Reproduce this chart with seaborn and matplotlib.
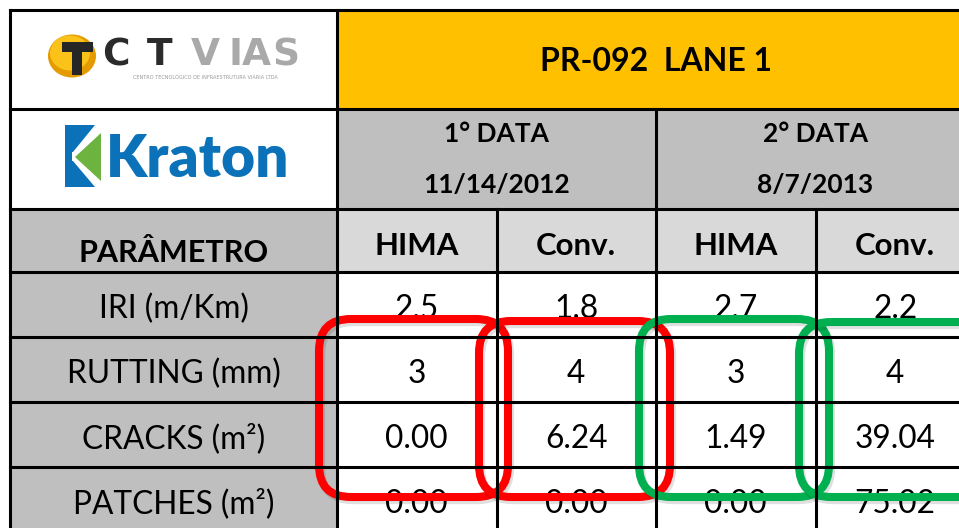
import numpy as np
import pandas as pd
import seaborn as sns
import matplotlib.pyplot as plt
from matplotlib.patches import Rectangle, Ellipse, Polygon, FancyBboxPatch
from matplotlib.colors import ListedColormap

sns.set_theme(style="white")
plt.rcParams['font.family'] = ['Lato', 'DejaVu Sans']
plt.rcParams['text.color'] = 'black'

# table content
titulo = "PR-092  LANE 1"
campanhas = ["1° DATA", "2° DATA"]
datas = ["11/14/2012", "8/7/2013"]
tratamentos = ["HIMA", "Conv.", "HIMA", "Conv."]
parametros = ["IRI (m/Km)", "RUTTING (mm)", "CRACKS (m²)", "PATCHES (m²)"]
casas = [1, 0, 2, 2]  # decimals shown on each row

hima_2012 = [2.5, 3, 0.00, 0.00]
conv_2012 = [1.8, 4, 6.24, 0.00]
hima_2013 = [2.7, 3, 1.49, 0.00]
conv_2013 = [2.2, 4, 39.04, 75.02]

df = pd.DataFrame({"hima_2012": hima_2012, "conv_2012": conv_2012,
                   "hima_2013": hima_2013, "conv_2013": conv_2013},
                  index=parametros)
annot = np.array([[f"{v:.{casas[i]}f}" for v in df.iloc[i]] for i in range(len(df))])

# layout in pixels (y goes down)
W, H = 959, 528
x_left, x_data, x_right = 10, 337, 975
col_w = (x_right - x_data) / 4
y_rows = [10, 109, 209, 272, 337, 402, 467, 532]
row_h = 65

AMARELO = "#FFC000"
CINZA = "#BFBFBF"
CINZA_CLARO = "#D9D9D9"

fig = plt.figure(figsize=(W / 100, H / 100), dpi=100)
ax = fig.add_axes([0, 0, 1, 1])
ax.set_xlim(0, W)
ax.set_ylim(H, 0)
ax.axis("off")

# cell fills
ax.add_patch(Rectangle((x_data, 10), x_right - x_data, 99, fc=AMARELO, lw=0))
half = (x_right - x_data) / 2
for i in range(2):
    ax.add_patch(Rectangle((x_data + i * half, 109), half, 100, fc=CINZA, lw=0))
ax.add_patch(Rectangle((x_left, 209), x_data - x_left, 63, fc=CINZA, lw=0))
for i in range(4):
    ax.add_patch(Rectangle((x_data + i * col_w, 209), col_w, 63, fc=CINZA_CLARO, lw=0))
ax.add_patch(Rectangle((x_left, 272), x_data - x_left, 260, fc=CINZA, lw=0))

# header texts
ax.text((x_data + x_right) / 2, 71, titulo, ha="center", va="baseline",
        fontsize=23, fontweight="bold", color="black")
for i in range(2):
    xc = x_data + half * (i + 0.5)
    ax.text(xc, 142.5, campanhas[i], ha="center", va="baseline", fontsize=19, fontweight="bold")
    ax.text(xc, 192.5, datas[i], ha="center", va="baseline", fontsize=19, fontweight="bold")
ax.text((x_left + x_data) / 2, 262, "PARÂMETRO", ha="center", va="baseline",
        fontsize=22, fontweight="bold")
for i, t in enumerate(tratamentos):
    ax.text(x_data + col_w * (i + 0.5), 255, t, ha="center", va="baseline",
            fontsize=22.5, fontweight="bold")
for i, p in enumerate(parametros):
    ax.text((x_left + x_data) / 2, y_rows[3] + row_h * i + 46, p, ha="center",
            va="baseline", fontsize=22.8)

# CTVIAS logo
ax.add_patch(Ellipse((72, 56), 48, 43, fc="#E39B00", lw=0))
ax.add_patch(Ellipse((70, 53), 40, 35, fc="#FBC21A", lw=0))
ax.add_patch(Rectangle((62, 42), 31, 10, fc="#262626", lw=0))
ax.add_patch(Rectangle((72, 50), 10, 25, fc="#262626", lw=0))
letras = ["C", "T", "V", "I", "A", "S"]
centros = [116, 160, 205.5, 236, 256.5, 286]
for l, xc in zip(letras, centros):
    cor = "#2B2B2B" if l in "CT" else "#A9A9A9"
    ax.text(xc, 65, l, ha="center", va="baseline", fontsize=27, fontweight="bold",
            color=cor, family="DejaVu Sans")
ax.text(205, 77.5, "CENTRO TECNOLÓGICO DE INFRAESTRUTURA VIÁRIA LTDA", ha="center",
        va="center", fontsize=3.6, color="#9A9A9A", family="DejaVu Sans")

# Kraton logo
AZUL = "#0B72B9"
ax.add_patch(Rectangle((65, 125), 7, 62, fc=AZUL, lw=0))
ax.add_patch(Polygon([(65, 125), (95, 125), (73, 152), (65, 152)], fc=AZUL, lw=0))
ax.add_patch(Polygon([(65, 187), (95, 187), (73, 161), (65, 161)], fc=AZUL, lw=0))
ax.add_patch(Polygon([(75, 157), (101, 133), (101, 181)], fc="#6CB33F", lw=0))
ax.text(106, 177, "Kraton", ha="left", va="baseline", fontsize=42, fontweight="heavy", color=AZUL)

# data cells through seaborn
ax_hm = fig.add_axes([x_data / W, (H - y_rows[-1]) / H, (x_right - x_data) / W, (y_rows[-1] - y_rows[3]) / H])
sns.heatmap(np.zeros(df.shape), annot=annot, fmt="", cmap=ListedColormap(["white"]),
            cbar=False, linewidths=0, xticklabels=False, yticklabels=False, ax=ax_hm,
            annot_kws={"fontsize": 22.8, "color": "black", "va": "baseline"})
for t in ax_hm.texts:
    x, y = t.get_position()
    t.set_position((x, y + 0.215))
ax_hm.axis("off")

# grid lines + highlight boxes on top
top = fig.add_axes([0, 0, 1, 1], zorder=5)
top.set_xlim(0, W)
top.set_ylim(H, 0)
top.axis("off")
top.patch.set_alpha(0)
kw = dict(color="black", lw=2.2, solid_capstyle="projecting")
for y in y_rows[:-1]:
    top.plot([x_left, x_right], [y, y], **kw)
top.plot([x_left, x_left], [10, 532], **kw)
top.plot([x_data, x_data], [10, 532], **kw)
top.plot([x_data + half, x_data + half], [109, 532], **kw)
for i in [1, 3]:
    xv = x_data + col_w * i
    top.plot([xv, xv], [209, 532], **kw)

caixas = [(319, 319, 189, 178, "#FF0000"), (479, 321, 191, 176, "#FF0000"),
          (639, 319, 190, 178, "#00B050"), (799, 322, 200, 175, "#00B050")]
for x0, y0, w, h, c in caixas:
    top.add_patch(FancyBboxPatch((x0 + 2, y0 + 3), w, h, boxstyle="round,pad=0,rounding_size=32",
                                 fc="none", ec="black", alpha=0.12, lw=6))
    top.add_patch(FancyBboxPatch((x0, y0), w, h, boxstyle="round,pad=0,rounding_size=32",
                                 fc="none", ec=c, lw=5.8))

fig.savefig("out.png", dpi=100, facecolor="white")
